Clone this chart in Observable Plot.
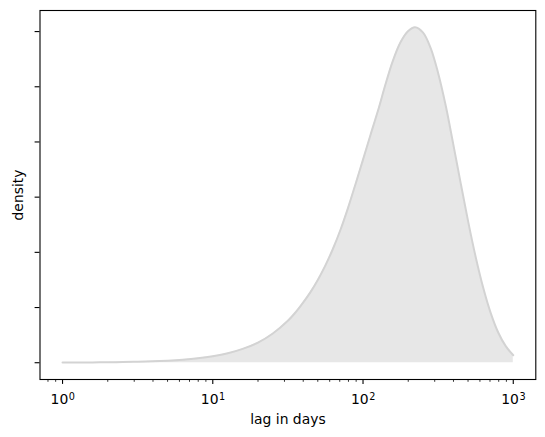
<!DOCTYPE html>
<html>
<head>
<meta charset="utf-8">
<script src="https://cdn.jsdelivr.net/npm/d3@7"></script>
<script src="https://cdn.jsdelivr.net/npm/@observablehq/plot@0.6"></script>
<style>
  html, body { margin: 0; padding: 0; background: #fff; }
  #chart svg { display: block; }
</style>
</head>
<body>
<div id="chart"></div>
<script>
const lagDays = [1, 1.26, 1.58, 2.0, 2.51, 3.16, 3.98, 5.01, 6.31, 7.94,
  10, 12.6, 15.8, 20, 25.1, 31.6, 35.5, 39.8, 44.7, 50.1,
  56.2, 63.1, 70.8, 79.4, 89.1, 100, 112, 126, 141, 158,
  178, 200, 222, 251, 282, 316, 355, 398, 447, 501,
  562, 631, 708, 794, 891, 1000];
// Density read at each lag
const densityValues = [0.0000015, 0.0000021, 0.000003, 0.0000043, 0.0000062, 0.000009, 0.000013, 0.000019, 0.0000275, 0.00004,
  0.0000585, 0.0000855, 0.000125, 0.0001825, 0.000265, 0.00038, 0.000455, 0.0005425, 0.00064, 0.000752,
  0.0008825, 0.0010325, 0.0012045, 0.001401, 0.0016175, 0.00184, 0.0020615, 0.0022865, 0.00252, 0.002735,
  0.002905, 0.003005, 0.003039, 0.00299, 0.00285, 0.002625, 0.00233, 0.001985, 0.001625, 0.001278,
  0.0009585, 0.000679, 0.0004495, 0.000274, 0.00015, 0.0000675];

const xMajorTicks = [1, 10, 100, 1000];
const xTickBase = "10";
const xTickExponents = ["0", "1", "2", "3"];
const yTicks = [0, 0.0005, 0.001, 0.0015, 0.002, 0.0025, 0.003];
const xLabel = "lag in days";
const yLabel = "density";

const data = lagDays.map((lag, i) => ({lag, density: densityValues[i]}));

// matplotlib-like 5% margins (log space for x)
const lx0 = Math.log10(d3.min(lagDays)), lx1 = Math.log10(d3.max(lagDays));
const pad = 0.05 * (lx1 - lx0);
const xDomain = [10 ** (lx0 - pad), 10 ** (lx1 + pad)];
const yMax = d3.max(densityValues), yMin = 0;
const yDomain = [yMin - 0.05 * (yMax - yMin), yMax + 0.05 * (yMax - yMin)];

// minor log ticks
const xMinorTicks = [];
for (let k = -1; k <= 3; k++) for (let m = 2; m <= 9; m++) {
  const v = m * 10 ** k;
  if (v >= xDomain[0] && v <= xDomain[1]) xMinorTicks.push(v);
}

const chart = Plot.plot({
  width: 545,
  height: 437,
  marginLeft: 39.5,
  marginRight: 9.7,
  marginTop: 10,
  marginBottom: 58,
  style: {fontFamily: "DejaVu Sans", fontSize: "13.9px", background: "#fff", color: "#000"},
  x: {type: "log", domain: xDomain},
  y: {domain: yDomain},
  marks: [
    Plot.areaY(data, {x: "lag", y: "density", fill: "#e7e7e7", curve: "catmull-rom"}),
    Plot.lineY(data, {x: "lag", y: "density", stroke: "#d3d3d3", strokeWidth: 2, curve: "catmull-rom"}),
    Plot.frame({stroke: "#000", strokeWidth: 1.1}),
    Plot.axisY({ticks: yTicks, tickSize: 4.9, tickFormat: () => "", label: null, strokeWidth: 1.1}),
    Plot.axisX({ticks: xMinorTicks, tickSize: 2.8, tickFormat: () => "", label: null, strokeWidth: 0.8}),
    Plot.axisX({ticks: xMajorTicks, tickSize: 4.9, tickFormat: () => "", label: null, strokeWidth: 1.1}),
    Plot.text(xMajorTicks, {x: d => d, text: () => xTickBase, frameAnchor: "bottom",
      lineAnchor: "middle", textAnchor: "end", dx: 5.7, dy: 19.9, fontSize: 13.9, fill: "#000"}),
    Plot.text(xMajorTicks, {x: d => d, text: (d, i) => xTickExponents[i], frameAnchor: "bottom",
      lineAnchor: "middle", textAnchor: "start", dx: 6.2, dy: 16.9, fontSize: 9.7, fill: "#000"}),
    Plot.text([xLabel], {frameAnchor: "bottom", dy: 40.5, text: d => d, lineAnchor: "middle", textAnchor: "middle"}),
    Plot.text([yLabel], {frameAnchor: "left", dx: -21.7, rotate: -90, text: d => d, lineAnchor: "middle", textAnchor: "middle"})
  ]
});
document.getElementById("chart").append(chart);
</script>
</body>
</html>
